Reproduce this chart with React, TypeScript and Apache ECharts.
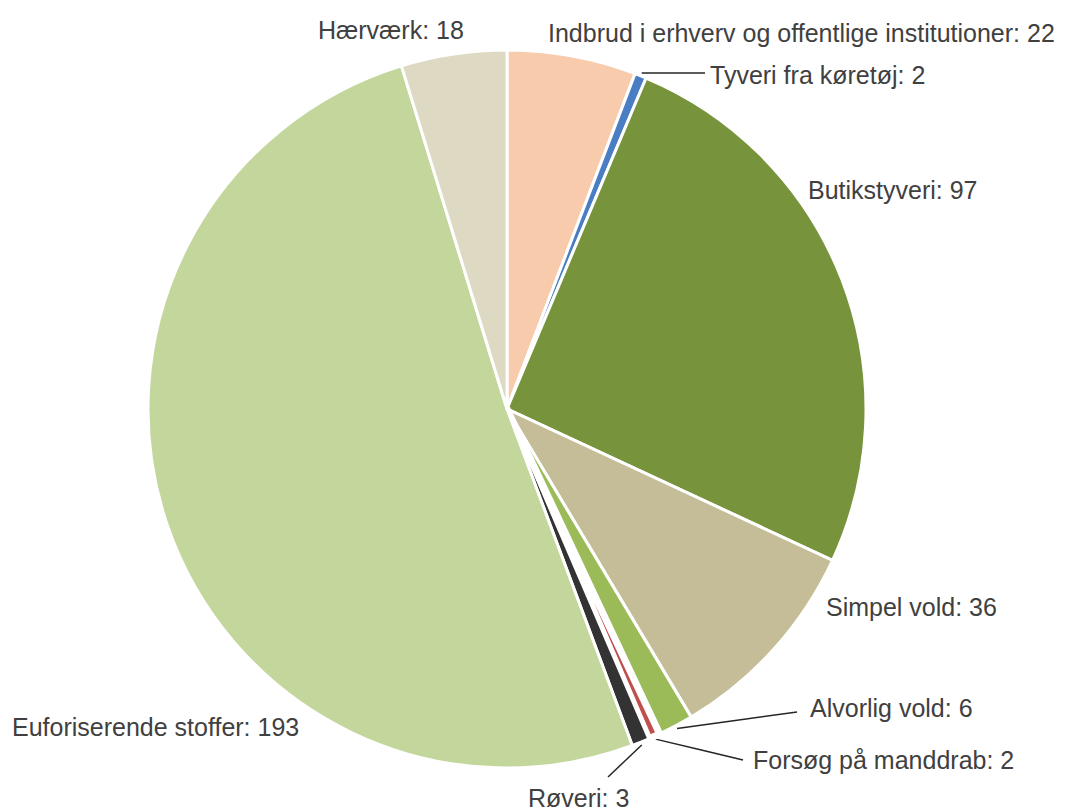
import React, { useEffect, useRef } from "react";
import * as echarts from "echarts";

const categories = [
  "Indbrud i erhverv og offentlige institutioner",
  "Tyveri fra køretøj",
  "Butikstyveri",
  "Simpel vold",
  "Alvorlig vold",
  "Forsøg på manddrab",
  "Røveri",
  "Euforiserende stoffer",
  "Hærværk",
];
const values = [22, 2, 97, 36, 6, 2, 3, 193, 18];
const colors = [
  "#F8CBAD",
  "#4A7EC4",
  "#77933C",
  "#C4BD97",
  "#9BBB59",
  "#C0504D",
  "#333333",
  "#C3D69B",
  "#DDD9C3",
];

// label placement (text anchor left/middle) and optional leader-line end
const labelPlacement: { x: number; y: number; lineEnd?: [number, number] }[] = [
  { x: 548, y: 33 },
  { x: 710, y: 75, lineEnd: [705, 73] },
  { x: 808, y: 190 },
  { x: 826, y: 607 },
  { x: 810, y: 708, lineEnd: [797, 712] },
  { x: 753, y: 760, lineEnd: [743, 760] },
  { x: 528, y: 798, lineEnd: [608, 777] },
  { x: 12, y: 727 },
  { x: 318, y: 30 },
];

const CX = 507;
const CY = 409;
const R = 359;

export default function App() {
  const ref = useRef<HTMLDivElement>(null);
  useEffect(() => {
    document.body.style.margin = "0";
    if (!ref.current) return;
    const chart = echarts.init(ref.current, undefined, { renderer: "svg" });
    const total = values.reduce((a, b) => a + b, 0);
    const mids: number[] = [];
    let acc = 0;
    values.forEach((v) => {
      mids.push(((acc + v / 2) / total) * Math.PI * 2);
      acc += v;
    });
    chart.setOption({
      animation: false,
      backgroundColor: "#ffffff",
      series: [
        {
          type: "pie",
          center: [CX, CY],
          radius: R,
          startAngle: 90,
          clockwise: true,
          avoidLabelOverlap: false,
          itemStyle: { borderColor: "#ffffff", borderWidth: 3 },
          label: {
            show: true,
            position: "outside",
            formatter: "{b}: {c}",
            fontFamily: "Liberation Sans",
            fontSize: 25,
            color: "#404040",
          },
          labelLine: {
            show: true,
            smooth: false,
            lineStyle: { color: "#262626", width: 1.5 },
          },
          emphasis: { disabled: true },
          labelLayout: (params: any) => {
            const i = params.dataIndex;
            const p = labelPlacement[i];
            const a = mids[i];
            const ax = CX + (R + 3) * Math.sin(a);
            const ay = CY - (R + 3) * Math.cos(a);
            const out: any = {
              x: p.x,
              y: p.y,
              align: "left",
              verticalAlign: "middle",
            };
            if (p.lineEnd) {
              out.labelLinePoints = [
                [ax, ay],
                [(ax + p.lineEnd[0]) / 2, (ay + p.lineEnd[1]) / 2],
                p.lineEnd,
              ];
            }
            return out;
          },
          data: categories.map((name, i) => ({
            name,
            value: values[i],
            itemStyle: {
              color: colors[i],
              borderWidth: i === 5 ? 7 : 3,
            },
            labelLine: { show: !!labelPlacement[i].lineEnd },
          })),
        },
      ],
    });
    return () => chart.dispose();
  }, []);
  return <div ref={ref} style={{ width: 1079, height: 811 }} />;
}
